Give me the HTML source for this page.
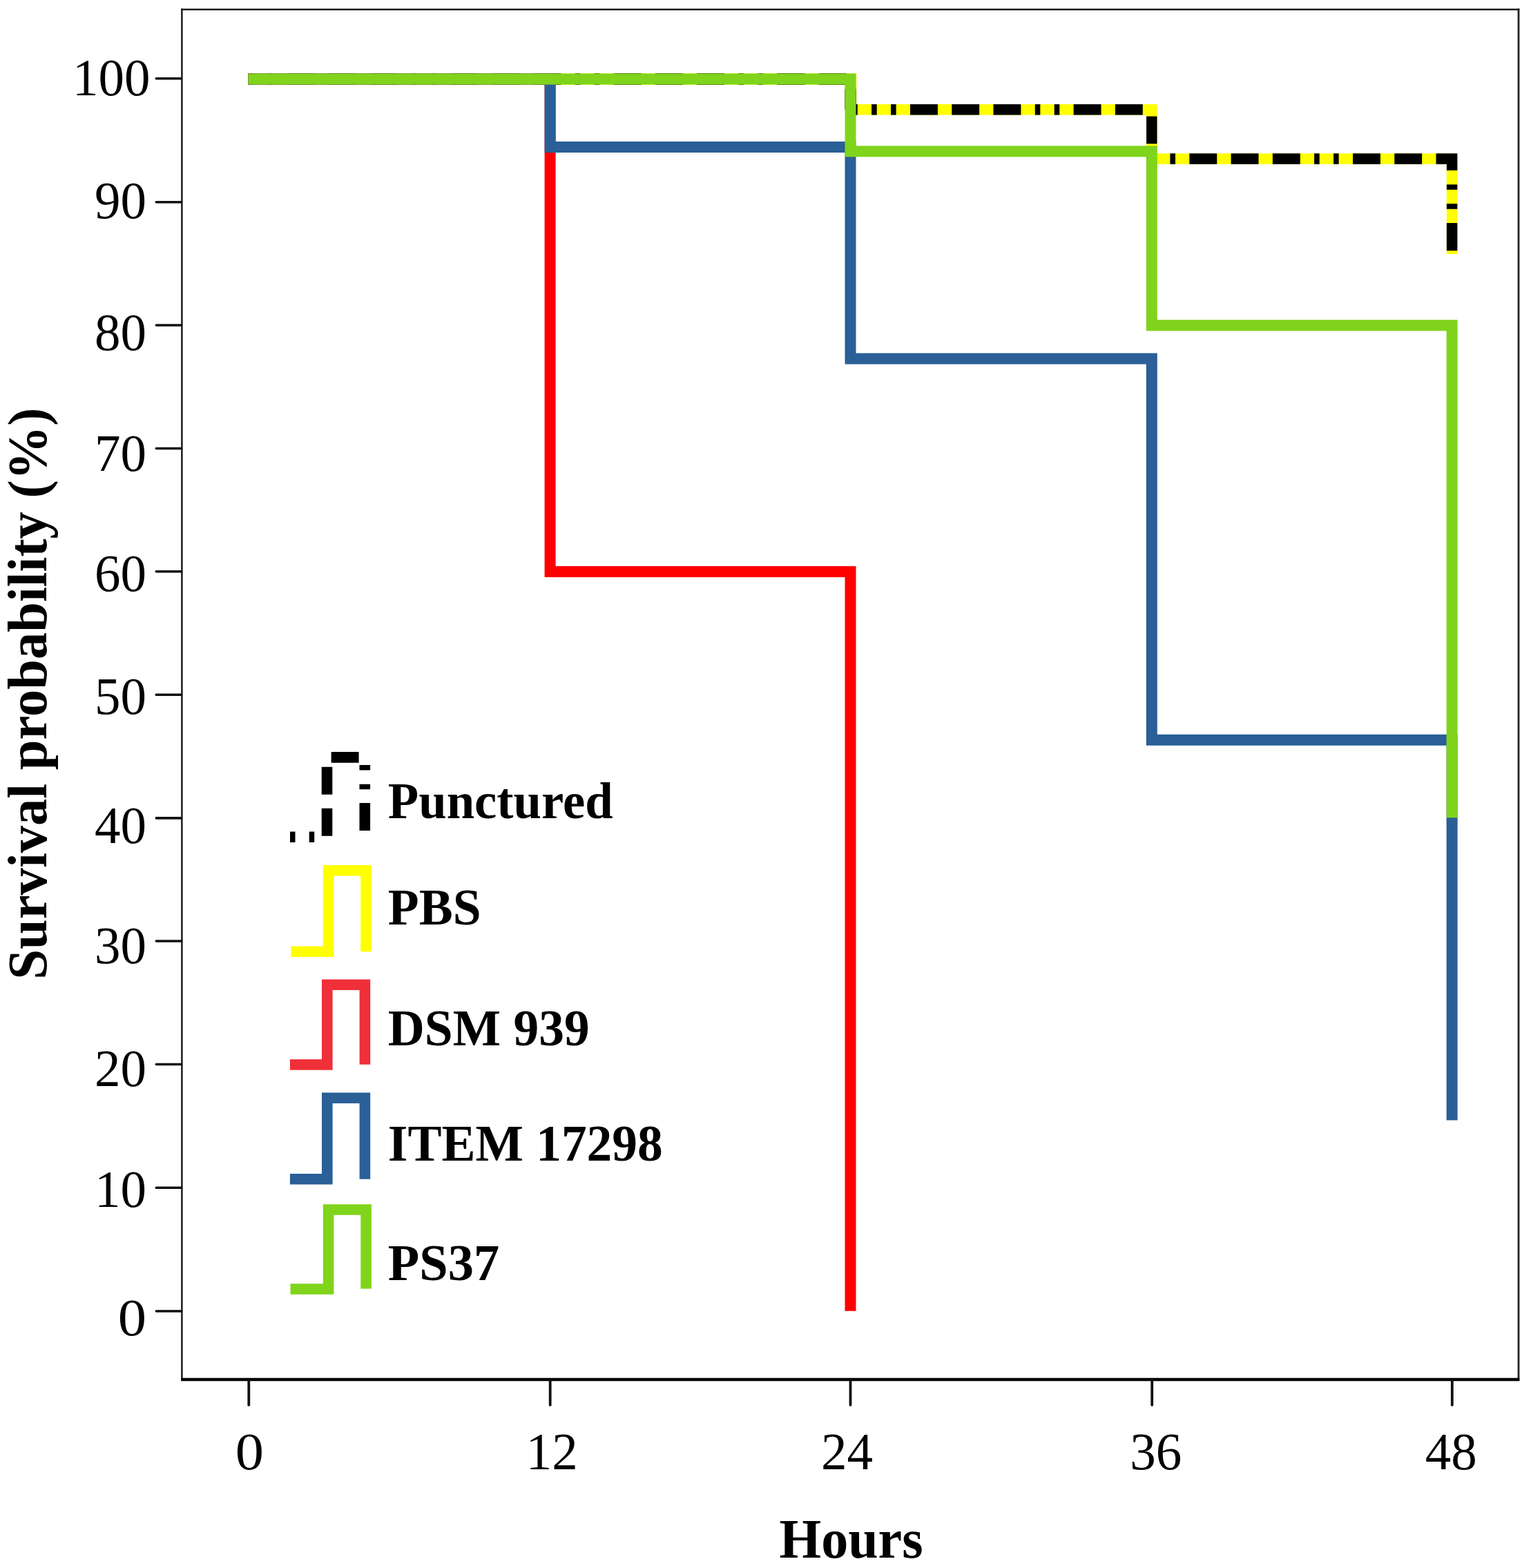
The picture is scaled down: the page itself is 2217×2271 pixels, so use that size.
<!DOCTYPE html>
<html><head><meta charset="utf-8"><title>Survival plot</title>
<style>html,body{margin:0;padding:0;background:#fff;}svg{display:block;}</style>
</head><body>
<svg width="2217" height="2271" viewBox="0 0 2217 2271">
<rect x="0" y="0" width="2217" height="2271" fill="#fff"/>
<g>

<g stroke="#000" fill="none">
<line x1="263.4" y1="12.5" x2="263.4" y2="1999.5" stroke-width="2.5" stroke="#1a1a1a"/>
<line x1="262.2" y1="13.7" x2="2200.3" y2="13.7" stroke-width="2.5" stroke="#1d1d1d"/>
<line x1="2199" y1="12.5" x2="2199" y2="1999.5" stroke-width="2.8" stroke="#222"/>
<line x1="262.2" y1="1998" x2="2200.3" y2="1998" stroke-width="4.4"/>
<line x1="226.3" y1="113.8" x2="262.4" y2="113.8" stroke-width="3.6" stroke-linecap="round" stroke="#111"/>
<line x1="226.3" y1="292.8" x2="262.4" y2="292.8" stroke-width="3.6" stroke-linecap="round" stroke="#111"/>
<line x1="226.3" y1="471" x2="262.4" y2="471" stroke-width="3.6" stroke-linecap="round" stroke="#111"/>
<line x1="226.3" y1="649.5" x2="262.4" y2="649.5" stroke-width="3.6" stroke-linecap="round" stroke="#111"/>
<line x1="226.3" y1="827.7" x2="262.4" y2="827.7" stroke-width="3.6" stroke-linecap="round" stroke="#111"/>
<line x1="226.3" y1="1006.2" x2="262.4" y2="1006.2" stroke-width="3.6" stroke-linecap="round" stroke="#111"/>
<line x1="226.3" y1="1184.9" x2="262.4" y2="1184.9" stroke-width="3.6" stroke-linecap="round" stroke="#111"/>
<line x1="226.3" y1="1363" x2="262.4" y2="1363" stroke-width="3.6" stroke-linecap="round" stroke="#111"/>
<line x1="226.3" y1="1541.5" x2="262.4" y2="1541.5" stroke-width="3.6" stroke-linecap="round" stroke="#111"/>
<line x1="226.3" y1="1720.3" x2="262.4" y2="1720.3" stroke-width="3.6" stroke-linecap="round" stroke="#111"/>
<line x1="226.3" y1="1899" x2="262.4" y2="1899" stroke-width="3.6" stroke-linecap="round" stroke="#111"/>
<line x1="360.3" y1="1999.5" x2="360.3" y2="2034.9" stroke-width="3.8" stroke-linecap="round" stroke="#111"/>
<line x1="796.7" y1="1999.5" x2="796.7" y2="2034.9" stroke-width="3.8" stroke-linecap="round" stroke="#111"/>
<line x1="1231.5" y1="1999.5" x2="1231.5" y2="2034.9" stroke-width="3.8" stroke-linecap="round" stroke="#111"/>
<line x1="1668.2" y1="1999.5" x2="1668.2" y2="2034.9" stroke-width="3.8" stroke-linecap="round" stroke="#111"/>
<line x1="2102.8" y1="1999.5" x2="2102.8" y2="2034.9" stroke-width="3.8" stroke-linecap="round" stroke="#111"/>
</g>
<g font-family="&quot;Liberation Serif&quot;, serif" font-size="75" fill="#000">
<text transform="translate(217.6,138) scale(1,1.02)" text-anchor="end">100</text>
<text transform="translate(212.1,315.8) scale(1,1.02)" text-anchor="end">90</text>
<text transform="translate(212.1,507.2) scale(1,1.02)" text-anchor="end">80</text>
<text transform="translate(212.1,681.5) scale(1,1.02)" text-anchor="end">70</text>
<text transform="translate(212.1,855.5) scale(1,1.02)" text-anchor="end">60</text>
<text transform="translate(212.1,1034.4) scale(1,1.02)" text-anchor="end">50</text>
<text transform="translate(212.1,1221.1) scale(1,1.02)" text-anchor="end">40</text>
<text transform="translate(212.1,1395) scale(1,1.02)" text-anchor="end">30</text>
<text transform="translate(212.1,1572.8) scale(1,1.02)" text-anchor="end">20</text>
<text transform="translate(212.1,1748.2) scale(1,1.02)" text-anchor="end">10</text>
<text transform="translate(212.1,1933.8) scale(1.1,1.02)" text-anchor="end">0</text>
<text transform="translate(361.5,2127.5) scale(1.1,1.02)" text-anchor="middle">0</text>
<text transform="translate(799.3,2127.5) scale(1,1.02)" text-anchor="middle">12</text>
<text transform="translate(1226.5,2127.5) scale(1,1.02)" text-anchor="middle">24</text>
<text transform="translate(1673.7,2127.5) scale(1,1.02)" text-anchor="middle">36</text>
<text transform="translate(2101.3,2127.5) scale(1,1.02)" text-anchor="middle">48</text>
</g>
<text transform="translate(1128.5,2256.2) scale(1,1.02)" font-family="&quot;Liberation Serif&quot;, serif" font-weight="bold" font-size="78">Hours</text>
<text transform="translate(67.1,1418.7) rotate(-90) scale(1,1.02)" font-family="&quot;Liberation Serif&quot;, serif" font-weight="bold" font-size="78.6">Survival probability (%)</text>
<g fill="none" stroke-width="16" stroke-linejoin="miter" stroke-linecap="butt">
<g stroke-width="15.5">
<path d="M359.5,114.5 H1231.9 V158.85" stroke="#FFFF00" stroke-width="16.7"/>
<path d="M1231.5,158.85 H1667.8 V230 H2102.6 V368" stroke="#FFFF00"/>
<path d="M359.5,114.5 H1231.5 V158.85" stroke="#000" stroke-dasharray="7.8 20.2 7.8 20.2 40 20.2 40 20.2 40 20.2" stroke-width="16.3"/>
<path d="M1231.5,158.85 H1667.8" stroke="#000" stroke-dasharray="7.6 20.35 7.6 20.35 39.9 20.35 39.9 20.35 39.9 20.35" stroke-dashoffset="206.05"/>
<path d="M1667.8,158.85 V230 H2102.6 V368" stroke="#000" stroke-dasharray="7.6 20.35 7.6 20.35 39.9 20.35 39.9 20.35 39.9 20.35" stroke-dashoffset="166.85"/>
</g>
<path d="M359.5,114.5 H796.6 V828 H1231.5 V1898.8" stroke="#FF0000"/>
<path d="M359.5,114.5 H796.6 V213 H1231.5 V519.4 H1667.8 V1071.8 H2102.6 V1622.4" stroke="#2A5F98"/>
<path d="M359.5,114.5 H1231.5 V219.2 H1667.8 V471.3 H2102.6 V1184.3" stroke="#80D41C"/>
</g>
<g fill="none" stroke-width="15.6" stroke-linejoin="miter" stroke-linecap="butt">
<path d="M420,1212.3 H473.5 V1096.9 H528.3 V1212.3" stroke="#000" stroke-dasharray="7.5 20.2 7.5 19.8 40 20 40 20 40 19.9"/>
<path d="M421.4,1378.3 H475.7 V1260.7 H530 V1378.3" stroke="#FFFF00"/>
<path d="M419.9,1542 H473.8 V1426.3 H528.4 V1541.7" stroke="#EF3038"/>
<path d="M419.9,1707.8 H473.8 V1590.2 H528.4 V1707.8" stroke="#2A5F98"/>
<path d="M420.5,1867 H475.6 V1752 H530.1 V1866.4" stroke="#80D41C"/>
</g>
<g font-family="&quot;Liberation Serif&quot;, serif" font-weight="bold" font-size="73.5" fill="#000">
<text transform="translate(561.8,1185.3) scale(1,1.02)" textLength="325.8" lengthAdjust="spacingAndGlyphs">Punctured</text>
<text transform="translate(561.8,1338.9) scale(1,1.02)">PBS</text>
<text transform="translate(561.8,1514) scale(1,1.02)">DSM 939</text>
<text transform="translate(561.8,1681) scale(1,1.02)">ITEM 17298</text>
<text transform="translate(561.8,1853.8) scale(1,1.02)" textLength="161.5" lengthAdjust="spacingAndGlyphs">PS37</text>
</g>
</g>
</svg>
</body></html>
